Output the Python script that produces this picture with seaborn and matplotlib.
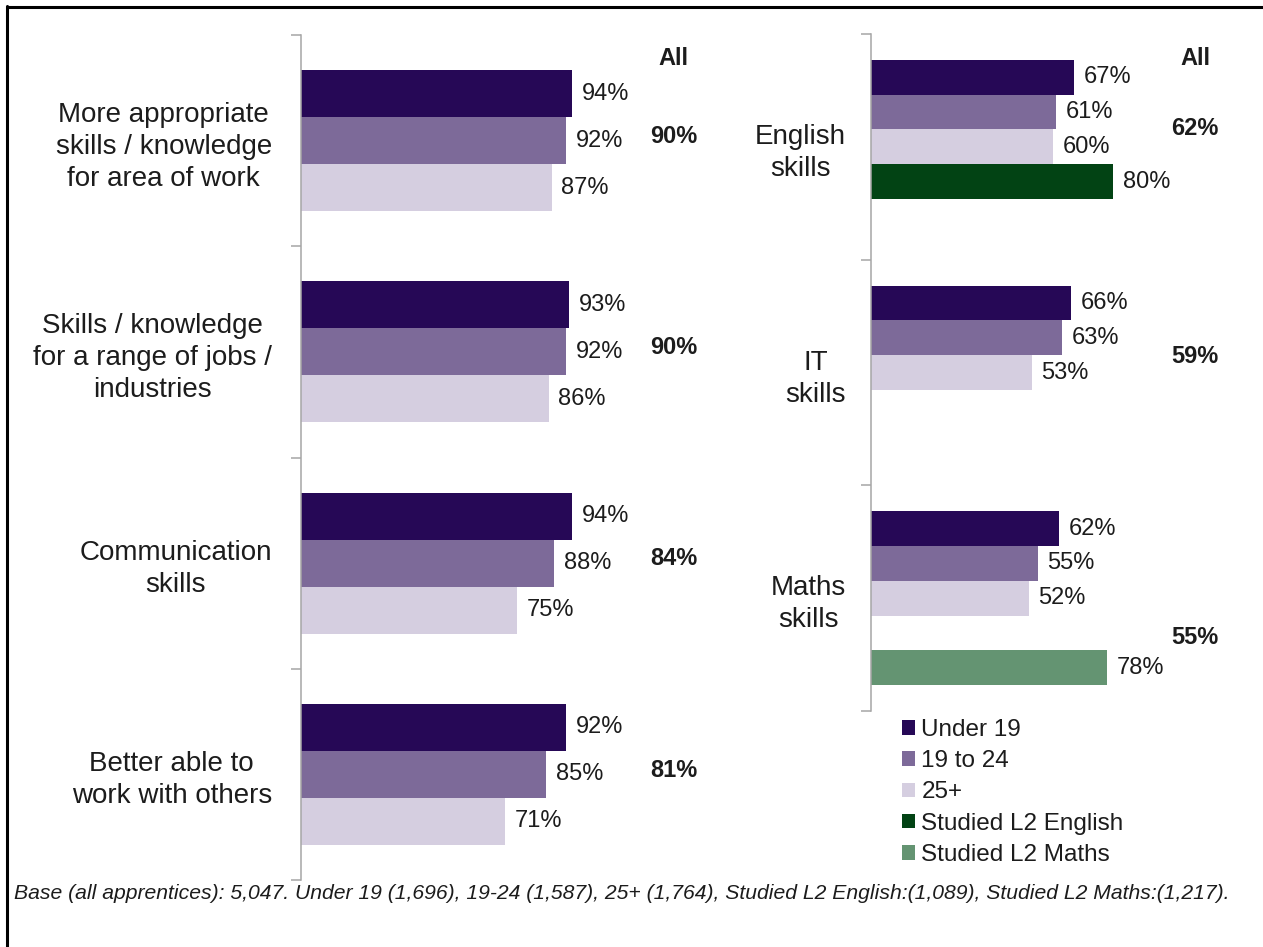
import numpy as np
import pandas as pd
import matplotlib
matplotlib.use("Agg")
import matplotlib.pyplot as plt
from matplotlib.lines import Line2D
import seaborn as sns

# ---- data -------------------------------------------------------------
left_categories = [
    "More appropriate\nskills / knowledge\nfor area of work",
    "Skills / knowledge\nfor a range of jobs /\nindustries",
    "Communication\nskills",
    "Better able to\nwork with others",
]
left_under19 = [94, 93, 94, 92]
left_19to24 = [92, 92, 88, 85]
left_25plus = [87, 86, 75, 71]
left_all = [90, 90, 84, 81]

right_categories = ["English\nskills", "IT\nskills", "Maths\nskills"]
right_under19 = [67, 66, 62]
right_19to24 = [61, 63, 55]
right_25plus = [60, 53, 52]
studied_l2_english = {"English\nskills": 80}
studied_l2_maths = {"Maths\nskills": 78}
right_all = [62, 59, 55]

groups = ["Under 19", "19 to 24", "25+", "Studied L2 English", "Studied L2 Maths"]
colors = ["#260856", "#7D6A99", "#D5CEE0", "#024314", "#649472"]

footnote = ("Base (all apprentices): 5,047. Under 19 (1,696), 19-24 (1,587), 25+ (1,764), "
            "Studied L2 English:(1,089), Studied L2 Maths:(1,217).")

# ---- tidy tables ------------------------------------------------------
def rows(cats, series):
    out = []
    for name, vals in series:
        for c, v in zip(cats, vals):
            out.append({"category": c, "group": name, "value": v})
    return out

left_df = pd.DataFrame(rows(left_categories, [
    ("Under 19", left_under19), ("19 to 24", left_19to24), ("25+", left_25plus)]))

right_rows = rows(right_categories, [
    ("Under 19", right_under19), ("19 to 24", right_19to24), ("25+", right_25plus)])
for c, v in studied_l2_english.items():
    right_rows.append({"category": c, "group": "Studied L2 English", "value": v})
for c, v in studied_l2_maths.items():
    right_rows.append({"category": c, "group": "Studied L2 Maths", "value": v})
right_df = pd.DataFrame(right_rows)

# ---- style ------------------------------------------------------------
sns.set_style("white")
plt.rcParams["font.family"] = ["Liberation Sans", "DejaVu Sans"]
text_color = "#1c1c1c"
spine_color = "#A6A6A6"

W, H = 1263, 947
fig = plt.figure(figsize=(W / 100, H / 100), dpi=100)

def px_axes(x0, x1, y0, y1):
    return fig.add_axes([x0 / W, 1 - y1 / H, (x1 - x0) / W, (y1 - y0) / H])

ax_l = px_axes(301, 740, 35, 880)
ax_r = px_axes(871, 1263, 34, 711)

palette_l = dict(zip(groups[:3], colors[:3]))
palette_r = dict(zip(groups, colors))

sns.barplot(data=left_df, x="value", y="category", hue="group", order=left_categories,
            hue_order=groups[:3], palette=palette_l, orient="h", width=0.667,
            saturation=1, linewidth=0, legend=False, ax=ax_l)
sns.barplot(data=right_df, x="value", y="category", hue="group", order=right_categories,
            hue_order=groups, palette=palette_r, orient="h", width=0.77,
            saturation=1, linewidth=0, legend=True, ax=ax_r)

handles, labels = ax_r.get_legend_handles_labels()
ax_r.get_legend().remove()

def style_axis(ax, cats, xmax, pad):
    n = len(cats)
    ax.set_xlim(0, xmax)
    ax.set_ylim(n - 0.5, -0.5)
    ax.set_yticks(np.arange(-0.5, n + 0.5, 1.0))
    ax.set_yticklabels([])
    ax.set_yticks(np.arange(n), labels=cats, minor=True)
    ax.tick_params(axis="y", which="major", left=True, length=7, width=1.1,
                   color=spine_color, direction="out")
    ax.tick_params(axis="y", which="minor", left=True, length=0, pad=pad, labelsize=20,
                   labelcolor=text_color)
    for lab in ax.get_yticklabels(minor=True):
        lab.set_multialignment("center")
        lab.set_linespacing(1.3)
    ax.xaxis.set_visible(False)
    ax.set_ylabel("")
    for s in ["top", "right", "bottom"]:
        ax.spines[s].set_visible(False)
    ax.spines["left"].set_color(spine_color)
    ax.spines["left"].set_linewidth(1.1)
    ax.set_facecolor("none")
    for cont in ax.containers:
        ax.bar_label(cont, fmt="%d%%", padding=7, fontsize=17, color=text_color)

style_axis(ax_l, left_categories, 439 / 2.88, 21)
style_axis(ax_r, right_categories, 392 / 3.03, 18)

# overall ("All") column
ax_l.text(129.3, -0.39, "All", ha="center", va="center", fontsize=17,
          fontweight="bold", color=text_color)
for i, v in enumerate(left_all):
    ax_l.text(129.3, i - 0.02, f"{v}%", ha="center", va="center", fontsize=17,
              fontweight="bold", color=text_color)

ax_r.text(106.9, -0.39, "All", ha="center", va="center", fontsize=17,
          fontweight="bold", color=text_color)
right_all_y = [-0.083, 0.931, 2.176]
for y, v in zip(right_all_y, right_all):
    ax_r.text(106.9, y, f"{v}%", ha="center", va="center", fontsize=17,
              fontweight="bold", color=text_color)

# legend
fig.legend(handles, labels, loc="upper left", bbox_to_anchor=(902 / W, 1 - 719 / H),
           frameon=False, borderpad=0, borderaxespad=0, handlelength=0.55,
           handleheight=0.55, handletextpad=0.25, labelspacing=0.38, fontsize=17.5,
           labelcolor=text_color)

# footnote
fig.text(14 / W, 1 - 893 / H, footnote, ha="left", va="center", fontsize=15.2,
         style="italic", color=text_color)

# frame lines along the top and left edges
fig.add_artist(Line2D([6.5 / W, 1], [1 - 7 / H, 1 - 7 / H], color="black", lw=2.2,
                      transform=fig.transFigure))
fig.add_artist(Line2D([7 / W, 7 / W], [0, 1 - 6 / H], color="black", lw=2.2,
                      transform=fig.transFigure))

fig.savefig("out.png", dpi=100, facecolor="white")
